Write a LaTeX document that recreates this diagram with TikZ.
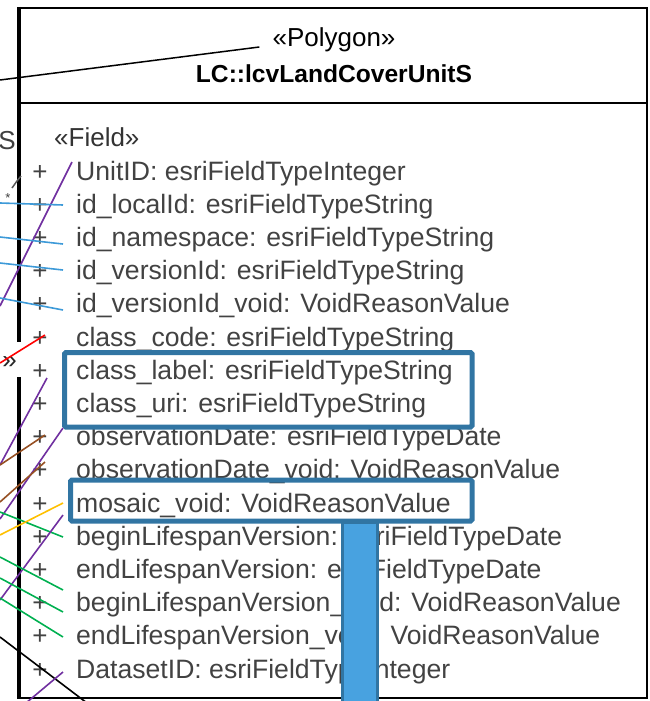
\documentclass[tikz,border=0pt]{standalone}
\usepackage{fontspec}
\setmainfont{Liberation Sans}
\usetikzlibrary{positioning}
\definecolor{linkpurple}{RGB}{112,48,160}
\definecolor{linkblue}{RGB}{61,154,216}
\definecolor{linkgreen}{RGB}{0,176,80}
\definecolor{linkbrown}{RGB}{150,80,35}
\definecolor{linkgold}{RGB}{255,192,0}
\definecolor{hiliteblue}{RGB}{49,117,163}
\definecolor{barblue}{RGB}{72,162,224}
\definecolor{attrgray}{RGB}{66,66,66}
\tikzstyle{attr} = [anchor=base west, inner sep=0pt, text=attrgray, font=\fontsize{26.6}{30}\selectfont]
\tikzstyle{plus} = [anchor=base, inner sep=0pt, text=attrgray, font=\fontsize{26}{30}\selectfont]
\tikzstyle{frag} = [inner sep=0pt, text=black!75, font=\fontsize{26}{30}\selectfont]
\tikzstyle{link} = [line width=1.6pt]
\tikzstyle{hilite} = [draw=hiliteblue, line width=5pt, rounded corners=1.5pt]

\begin{document}
\begin{tikzpicture}[x=1pt, y=-1pt]
    \useasboundingbox (0, 0) rectangle (650, 701);
    \draw[line width=2pt] (20, 8) -- (647, 8) -- (647, 698) -- (20, 698);
    \draw[line width=3.5pt] (19, 7) -- (19, 342);
    \draw[line width=3.5pt] (19, 377) -- (19, 699);
    \draw[line width=2pt] (20, 103) -- (647, 103);
    \node[anchor=base, inner xsep=13pt, inner ysep=0pt, font=\fontsize{26}{30}\selectfont] (stereo) at (334, 47) {«Polygon»};
    \node[anchor=base, inner sep=0pt, font=\fontsize{24.6}{30}\selectfont\bfseries] (cname) at (334, 82) {LC::lcvLandCoverUnitS};
    \node[anchor=base west, inner sep=0pt, text=black!80, font=\fontsize{26}{30}\selectfont] (field) at (54, 146) {«Field»};
    \foreach \i/\txt in {0/UnitID: esriFieldTypeInteger, 1/id\_localId: esriFieldTypeString,
        2/id\_namespace: esriFieldTypeString, 3/id\_versionId: esriFieldTypeString,
        4/id\_versionId\_void: VoidReasonValue, 5/class\_code: esriFieldTypeString,
        6/class\_label: esriFieldTypeString, 7/class\_uri: esriFieldTypeString,
        8/observationDate: esriFieldTypeDate, 9/observationDate\_void: VoidReasonValue,
        10/mosaic\_void: VoidReasonValue, 11/beginLifespanVersion: esriFieldTypeDate,
        12/endLifespanVersion: esriFieldTypeDate, 13/beginLifespanVersion\_void: VoidReasonValue,
        14/endLifespanVersion\_void: VoidReasonValue, 15/DatasetID: esriFieldTypeInteger}
    {
        \node[plus] (plus\i) at (40, {180 + 33.2*\i}) {+};
        \node[attr] (row\i) at (76, {180 + 33.2*\i}) {\txt};
    }
    \node[frag, anchor=base east] (cutS) at (16, 149) {S};
    \node[frag, anchor=base east, text=black!85] (cutq) at (17, 368) {»};
    \node[frag, font=\fontsize{13}{14}\selectfont] (cutstar) at (8, 198) {*};
    \draw[line width=1.5pt, black!65] (12, 188) -- (17, 181) -- (21, 176);
    \draw[hilite] (64.5, 352.5) rectangle (472, 427);
    \draw[hilite] (70.5, 480) rectangle (472, 521);
    \draw[draw=hiliteblue, fill=barblue, line width=3pt] (342, 522) rectangle (377, 705);
    \coordinate (lnk) at (0, 80);
    \draw[line width=1.5pt] (lnk) -- (stereo.base west);
    \foreach \n/\col/\ya/\xb/\yb in {1/linkpurple/306/72/162, 2/linkblue/203/63/205,
        3/linkblue/237/63/244, 4/linkblue/263/63/270, 5/linkblue/298/63/310,
        6/red/363/45/335, 7/linkpurple/465/47/378, 8/linkpurple/519/63/428,
        9/linkbrown/465/45/435, 10/linkbrown/502/45/462, 11/linkgreen/512/63/537,
        12/linkgold/535/63/503, 13/linkpurple/600/63/515, 14/linkgreen/557/63/590,
        15/linkgreen/578/63/612, 16/linkgreen/598/63/637, 17/black/637/87/703}
    {
        \coordinate (a\n) at (0, \ya);
        \coordinate (b\n) at (\xb, \yb);
        \draw[link, \col] (a\n) -- (b\n);
    }
    \coordinate (a18) at (63, 672);
    \coordinate (b18) at (26, 703);
    \draw[link, linkpurple] (a18) -- (b18);
\end{tikzpicture}
\end{document}
